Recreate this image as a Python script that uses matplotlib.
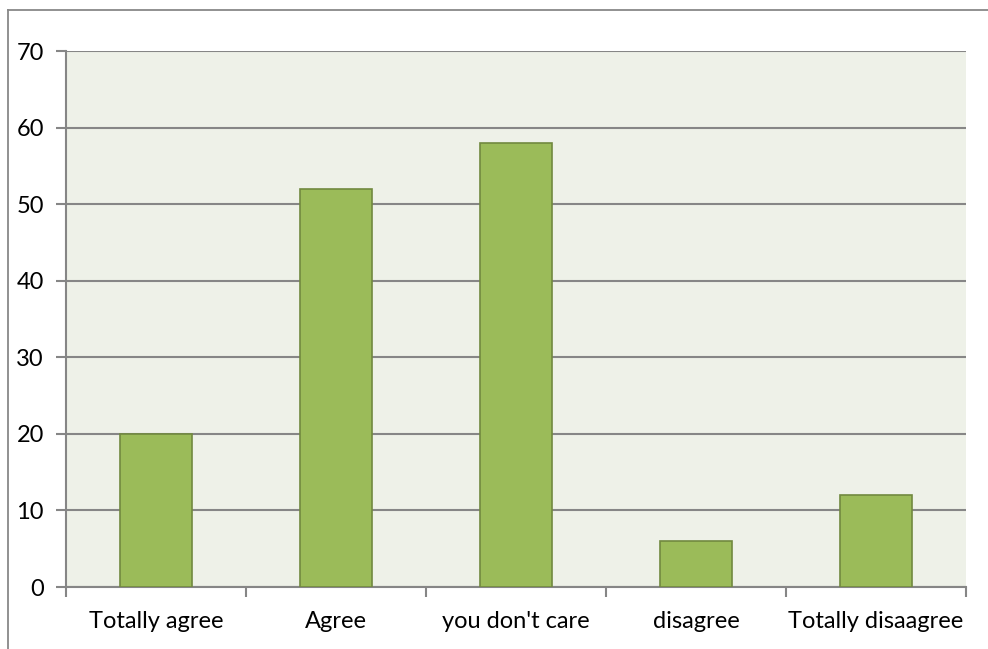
import matplotlib
matplotlib.use("Agg")
import matplotlib.pyplot as plt
from matplotlib.lines import Line2D

categories = ["Totally agree", "Agree", "you don't care", "disagree", "Totally disaagree"]
values = [20, 52, 58, 6, 12]
yticks = [0, 10, 20, 30, 40, 50, 60, 70]

W, H = 988, 649
fig = plt.figure(figsize=(W / 100, H / 100), dpi=100)
plt.rcParams['font.family'] = ['Lato', 'DejaVu Sans']

# plot area in pixel coordinates
left, right, top, bottom = 66, 966, 51, 587
ax = fig.add_axes([left / W, 1 - bottom / H, (right - left) / W, (bottom - top) / H])
ax.set_facecolor("#EEF1E8")

x = list(range(len(categories)))
ax.bar(x, values, width=0.4, color="#9BBB59", edgecolor="#71893F", linewidth=1.2, zorder=3)

ax.set_xlim(-0.5, len(categories) - 0.5)
ax.set_ylim(0, 70)
ax.set_yticks(yticks)
ax.set_yticklabels([str(v) for v in yticks], fontsize=17)
ax.yaxis.grid(True, color="#868686", linewidth=1.5, zorder=1)
ax.set_axisbelow(True)

# category labels between boundary tick marks
ax.set_xticks([i - 0.5 for i in range(len(categories) + 1)])
ax.set_xticklabels([])
ax.set_xticks(x, minor=True)
ax.set_xticklabels(categories, minor=True, fontsize=17)
ax.tick_params(axis="x", which="minor", length=0, pad=17)
ax.tick_params(axis="x", which="major", length=7, color="#868686", width=1.5)
ax.tick_params(axis="y", length=7, color="#868686", width=1.5, pad=9)

for side in ["top", "right"]:
    ax.spines[side].set_visible(False)
for side in ["left", "bottom"]:
    ax.spines[side].set_color("#868686")
    ax.spines[side].set_linewidth(1.5)

# outer chart frame (top and left edges)
fig.add_artist(Line2D([8 / W, 1], [1 - 10 / H, 1 - 10 / H], transform=fig.transFigure,
                      color="#888888", linewidth=1.3))
fig.add_artist(Line2D([8 / W, 8 / W], [0, 1 - 10 / H], transform=fig.transFigure,
                      color="#888888", linewidth=1.3))

fig.savefig("out.png", dpi=100)
